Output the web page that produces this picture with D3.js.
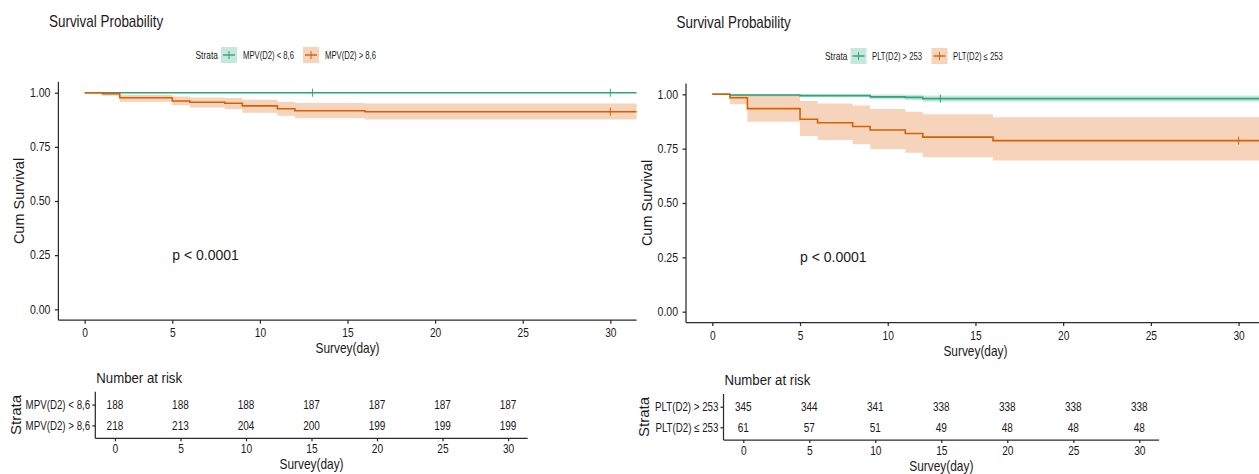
<!DOCTYPE html>
<html>
<head>
<meta charset="utf-8">
<script src="https://cdn.jsdelivr.net/npm/d3@7"></script>
<style>
  body { margin: 0; background: #fff; }
  svg { display: block; font-family: "Liberation Sans", Arial, sans-serif; }
  .axis path, .axis line { stroke: #2b2b2b; stroke-width: 1.25; }
  .axis text { fill: #1a1a1a; }
</style>
</head>
<body>
<svg width="1259" height="474"></svg>
<script>
// x ticks shared by both panels
var dayTicks = [0, 5, 10, 15, 20, 25, 30];
var survTicks = [0, 0.25, 0.5, 0.75, 1];

// left panel: MPV(D2)
var mpvLabels = ["MPV(D2) < 8,6", "MPV(D2) > 8,6"];
var mpvLowTime  = [0, 32];
var mpvLowSurv  = [1, 1];
var mpvLowLower = [1, 1];
var mpvLowUpper = [1, 1];
var mpvLowCens  = [13, 30];
var mpvHighTime  = [0, 1, 2, 5, 6, 8, 9, 11, 12, 16, 32];
var mpvHighSurv  = [1, 0.995, 0.977, 0.962, 0.956, 0.951, 0.939, 0.926, 0.917, 0.912, 0.912];
var mpvHighLower = [1, 0.986, 0.958, 0.942, 0.932, 0.925, 0.908, 0.894, 0.882, 0.876, 0.876];
var mpvHighUpper = [1, 1, 0.991, 0.982, 0.978, 0.975, 0.968, 0.958, 0.952, 0.950, 0.950];
var mpvHighCens  = [30];
var mpvRiskLow  = [188, 188, 188, 187, 187, 187, 187];
var mpvRiskHigh = [218, 213, 204, 200, 199, 199, 199];

// right panel: PLT(D2)
var pltLabels = ["PLT(D2) > 253", "PLT(D2) \u2264 253"];
var pltHighTime  = [0, 1, 5, 9, 11, 12, 32];
var pltHighSurv  = [1, 0.997, 0.994, 0.988, 0.986, 0.980, 0.980];
var pltHighLower = [1, 0.991, 0.986, 0.977, 0.973, 0.966, 0.966];
var pltHighUpper = [1, 1, 1, 0.999, 0.998, 0.995, 0.995];
var pltHighCens  = [13];
var pltLowTime  = [0, 1, 2, 5, 6, 8, 9, 11, 12, 16, 32];
var pltLowSurv  = [1, 0.984, 0.934, 0.885, 0.869, 0.852, 0.836, 0.820, 0.803, 0.787, 0.787];
var pltLowLower = [1, 0.954, 0.874, 0.808, 0.790, 0.770, 0.748, 0.731, 0.710, 0.695, 0.695];
var pltLowUpper = [1, 1, 0.998, 0.969, 0.958, 0.948, 0.932, 0.920, 0.908, 0.894, 0.894];
var pltLowCens  = [30];
var pltRiskHigh = [345, 344, 341, 338, 338, 338, 338];
var pltRiskLow  = [61, 57, 51, 49, 48, 48, 48];

var green = "#2FA37C", orange = "#D95F02";

var svg = d3.select("svg");

function series(time, surv, lower, upper, cens, color) {
    return {
        pts: time.map(function(t, i) { return {t: t, s: surv[i], lo: lower[i], hi: upper[i]}; }),
        time: time, surv: surv, cens: cens, color: color
    };
}

// text squeezed horizontally, like the source image
function label(g, x, y, s, size, sx, anchor, fill) {
    return g.append("text")
        .attr("transform", "translate(" + x + "," + y + ") scale(" + sx + ",1)")
        .attr("text-anchor", anchor || "start")
        .style("font-size", size + "px")
        .attr("fill", fill || "#1a1a1a")
        .text(s);
}

function survAt(sr, t) {
    var v = sr.surv[0];
    for (var i = 0; i < sr.time.length; i++) if (sr.time[i] <= t) v = sr.surv[i];
    return v;
}

function panel(P) {
    var g = svg.append("g");

    label(g, P.titleX, P.titleY, "Survival Probability", 16, 0.84);

    // legend
    var lg = g.append("g");
    label(lg, P.legX, P.legY + 3.5, "Strata", 10, 0.84);
    P.legKeys.forEach(function(k, i) {
        var sr = P.series[i];
        lg.append("rect").attr("x", k.kx).attr("y", P.legY - 8).attr("width", 16).attr("height", 16)
            .attr("fill", sr.color).attr("fill-opacity", 0.27);
        lg.append("line").attr("x1", k.kx + 2).attr("x2", k.kx + 14).attr("y1", P.legY).attr("y2", P.legY)
            .attr("stroke", sr.color).attr("stroke-width", 1.4);
        lg.append("line").attr("x1", k.kx + 8).attr("x2", k.kx + 8).attr("y1", P.legY - 4).attr("y2", P.legY + 4)
            .attr("stroke", sr.color).attr("stroke-width", 1);
        label(lg, k.tx, P.legY + 3.5, P.labels[i], 10, 0.77);
    });

    var x = d3.scaleLinear().domain([-1.5, 31.5]).range(P.xRange);
    var y = d3.scaleLinear().domain([0, 1]).range(P.yRange);

    var clipId = "clip" + P.id;
    g.append("defs").append("clipPath").attr("id", clipId)
      .append("rect")
        .attr("x", x(-1.5)).attr("y", y(1.05))
        .attr("width", x(31.5) - x(-1.5)).attr("height", y(-0.05) - y(1.05));

    var plot = g.append("g").attr("clip-path", "url(#" + clipId + ")");

    var area = d3.area().curve(d3.curveStepAfter)
        .x(function(d) { return x(d.t); })
        .y0(function(d) { return y(d.lo); })
        .y1(function(d) { return y(d.hi); });
    var line = d3.line().curve(d3.curveStepAfter)
        .x(function(d) { return x(d.t); })
        .y(function(d) { return y(d.s); });

    P.series.forEach(function(sr) {
        plot.append("path").datum(sr.pts).attr("d", area)
            .attr("fill", sr.color).attr("fill-opacity", 0.27);
    });
    P.series.forEach(function(sr) {
        plot.append("path").datum(sr.pts).attr("d", line)
            .attr("fill", "none").attr("stroke", sr.color).attr("stroke-width", 1.6);
        plot.selectAll(null).data(sr.cens).enter().append("line")
            .attr("x1", function(d) { return x(d); }).attr("x2", function(d) { return x(d); })
            .attr("y1", function(d) { return y(survAt(sr, d)) - 4; })
            .attr("y2", function(d) { return y(survAt(sr, d)) + 4; })
            .attr("stroke", sr.color).attr("stroke-width", 1);
    });

    // axes
    var yAxis = g.append("g").attr("class", "axis")
        .attr("transform", "translate(" + x(-1.5) + ",0)")
        .call(d3.axisLeft(y).tickValues(survTicks).tickFormat(d3.format(".2f")).tickSize(3.5).tickPadding(5.5).tickSizeOuter(0));
    yAxis.select(".domain").attr("d", "M0," + y(1.05) + "V" + y(-0.05));
    yAxis.selectAll("text").style("font-size", "12px").attr("transform", "scale(0.88,1)");

    var xAxis = g.append("g").attr("class", "axis")
        .attr("transform", "translate(0," + y(-0.05) + ")")
        .call(d3.axisBottom(x).tickValues(dayTicks).tickSize(3.5).tickPadding(5).tickSizeOuter(0));
    xAxis.select(".domain").attr("d", "M" + x(-1.5) + ",0H" + x(31.5));
    xAxis.selectAll("text").style("font-size", "12px").attr("transform", "scale(0.85,1)");

    label(g, (x(-1.5) + x(31.5)) / 2, y(-0.05) + 33, "Survey(day)", 14, 0.85, "middle");
    g.append("text")
        .attr("transform", "translate(" + P.yTitleX + "," + (y(1.05) + y(-0.05)) / 2 + ") rotate(-90)")
        .attr("text-anchor", "middle").style("font-size", "14.5px").attr("fill", "#1a1a1a")
        .text("Cum Survival");

    label(g, x(5), y(0.25) + 5, "p < 0.0001", 14, 1);

    // number at risk table
    var rx = d3.scaleLinear().domain([-1.5, 31.5]).range(P.riskX);
    var ry = d3.scalePoint().domain(P.labels).range(P.riskY).padding(0.62);

    label(g, rx(-1.5) + 1, P.riskY[0] - 9, "Number at risk", 14.5, 0.91);

    var ryAxis = g.append("g").attr("class", "axis")
        .attr("transform", "translate(" + rx(-1.5) + ",0)")
        .call(d3.axisLeft(ry).tickSize(3).tickPadding(2).tickSizeOuter(0));
    ryAxis.select(".domain").attr("d", "M0," + P.riskY[0] + "V" + P.riskY[1]);
    ryAxis.selectAll("text").style("font-size", "12.5px").attr("transform", "scale(0.78,1)")
        .attr("fill", function(d, i) { return P.series[i].color; })
        .attr("x", -6.5);

    var rxAxis = g.append("g").attr("class", "axis")
        .attr("transform", "translate(0," + P.riskY[1] + ")")
        .call(d3.axisBottom(rx).tickValues(dayTicks).tickSize(3).tickPadding(3.5).tickSizeOuter(0));
    rxAxis.select(".domain").attr("d", "M" + rx(-1.5) + ",0H" + rx(31.5));
    rxAxis.selectAll("text").style("font-size", "12px").attr("transform", "scale(0.85,1)");

    P.risk.forEach(function(row, i) {
        row.forEach(function(n, j) {
            label(g, rx(dayTicks[j]), ry(P.labels[i]) + 4.7, n, 13, 0.77, "middle");
        });
    });

    label(g, (rx(-1.5) + rx(31.5)) / 2, P.riskY[1] + 31, "Survey(day)", 14, 0.85, "middle");
    g.append("text")
        .attr("transform", "translate(" + (P.yTitleX - 3.5) + "," + (P.riskY[0] + P.riskY[1]) / 2 + ") rotate(-90)")
        .attr("text-anchor", "middle").style("font-size", "15px").attr("fill", "#1a1a1a")
        .text("Strata");
}

panel({
    id: "L",
    titleX: 49, titleY: 27,
    legX: 195.5, legY: 55,
    legKeys: [{kx: 221, tx: 243}, {kx: 303, tx: 325}],
    labels: mpvLabels,
    series: [
        series(mpvLowTime, mpvLowSurv, mpvLowLower, mpvLowUpper, mpvLowCens, green),
        series(mpvHighTime, mpvHighSurv, mpvHighLower, mpvHighUpper, mpvHighCens, orange)
    ],
    xRange: [58.4, 636.6], yRange: [309.3, 92.7],
    yTitleX: 24,
    riskX: [95.3, 527.7], riskY: [391.7, 438.3],
    risk: [mpvRiskLow, mpvRiskHigh]
});

panel({
    id: "R",
    titleX: 676.5, titleY: 28,
    legX: 825, legY: 56,
    legKeys: [{kx: 850.5, tx: 872}, {kx: 931.5, tx: 953}],
    labels: pltLabels,
    series: [
        series(pltHighTime, pltHighSurv, pltHighLower, pltHighUpper, pltHighCens, green),
        series(pltLowTime, pltLowSurv, pltLowLower, pltLowUpper, pltLowCens, orange)
    ],
    xRange: [686, 1264.9], yRange: [311.7, 94.3],
    yTitleX: 652,
    riskX: [723.5, 1159.1], riskY: [394, 440],
    risk: [pltRiskHigh, pltRiskLow]
});
</script>
</body>
</html>
